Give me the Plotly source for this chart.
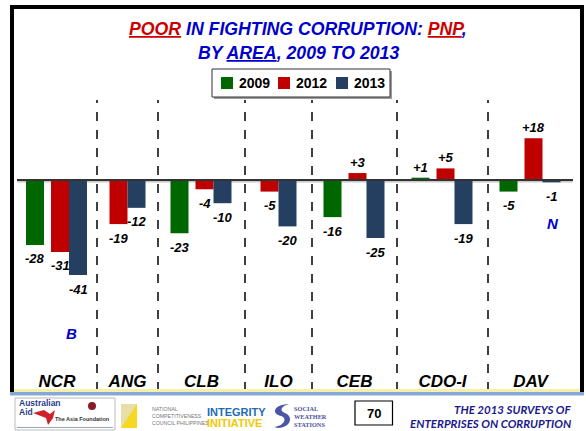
import plotly.graph_objects as go

# ---------------- data ----------------
areas = ["NCR", "ANG", "CLB", "ILO", "CEB", "CDO-I", "DAV"]
years = ["2009", "2012", "2013"]
v2009 = [-28, None, -23, None, -16, 1, -5]
v2012 = [-31, -19, -4, -5, 3, 5, 18]
v2013 = [-41, -12, -10, -20, -25, -19, -1]
series = [v2009, v2012, v2013]
colors = ["#006600", "#C00000", "#243F60"]

# ---------------- layout constants ----------------
W, H = 586, 431
PL, PR, PT, PB = 17, 573, 100, 369          # plot area in px
region_widths = [80, 61, 87, 67, 85, 91, 85]  # relative widths of area columns
PX_PER_UNIT = 2.32
ZERO_PX = 180
BAR_W = 18
off3 = [-22, 3, 21]
off2 = [None, -9, 9]

edges = [0]
for w in region_widths:
    edges.append(edges[-1] + w)
centers = [(edges[i] + edges[i + 1]) / 2 for i in range(len(areas))]

y_top = (ZERO_PX - PT) / PX_PER_UNIT
y_bot = -(PB - ZERO_PX) / PX_PER_UNIT


def xp(px):
    return (px - PL) / (PR - PL)


def yp(py):
    return (PB - py) / (PB - PT)


FONT = "Arial, Liberation Sans, sans-serif"
BLUE_T = "#0000CC"
RED_T = "#CC0000"

fig = go.Figure()
annotations = []
shapes = []


def text_at(px, py, text, font, xanchor="center"):
    annotations.append(dict(x=xp(px), y=yp(py), xref="paper", yref="paper", showarrow=False,
                            xanchor=xanchor, yanchor="middle", text=text, font=font))


for s, (name, vals, col) in enumerate(zip(years, series, colors)):
    xs, ys = [], []
    for i, v in enumerate(vals):
        if v is None:
            continue
        has3 = series[0][i] is not None
        off = off3[s] if has3 else off2[s]
        xs.append(centers[i] + off)
        ys.append(v)
        annotations.append(dict(
            x=centers[i] + off, y=v, xref="x", yref="y",
            text=(f"+{v}" if v > 0 else f"{v}"), showarrow=False,
            xanchor="center", yanchor="middle", yshift=(10.5 if v > 0 else -14),
            font=dict(family=FONT, size=13, color="black", weight="bold", style="italic")))
    fig.add_trace(go.Bar(x=xs, y=ys, width=BAR_W, name=name, marker_color=col,
                         marker_line_width=0, showlegend=False))

# zero line with soft shadow
shapes.append(dict(type="line", xref="x", yref="y", x0=0, x1=edges[-1], y0=-0.7, y1=-0.7,
                   line=dict(color="#C8C8C8", width=2), layer="below"))
shapes.append(dict(type="line", xref="x", yref="y", x0=0, x1=edges[-1], y0=0, y1=0,
                   line=dict(color="#333333", width=2)))

# dashed separators
for e in edges[1:-1]:
    shapes.append(dict(type="line", xref="x", yref="paper", x0=e, x1=e,
                       y0=yp(391), y1=yp(100), line=dict(color="black", width=1.5, dash="dash")))

# outer frame (left, top, right)
frame = "#000000"
shapes.append(dict(type="rect", xref="paper", yref="paper", x0=xp(10), x1=xp(14), y0=yp(395), y1=yp(5),
                   fillcolor=frame, line_width=0))
shapes.append(dict(type="rect", xref="paper", yref="paper", x0=xp(10), x1=xp(584), y0=yp(9), y1=yp(5),
                   fillcolor=frame, line_width=0))
shapes.append(dict(type="rect", xref="paper", yref="paper", x0=xp(580), x1=xp(584), y0=yp(395), y1=yp(5),
                   fillcolor=frame, line_width=0))

# footer separator
shapes.append(dict(type="rect", xref="paper", yref="paper", x0=xp(14), x1=xp(580), y0=yp(392), y1=yp(389),
                   fillcolor="#F4F0A8", line_width=0))
shapes.append(dict(type="rect", xref="paper", yref="paper", x0=xp(10), x1=xp(584), y0=yp(395.5), y1=yp(392),
                   fillcolor="#86A8D8", line_width=0))

# title
title_font = dict(family=FONT, size=17.7, color=BLUE_T, weight="bold", style="italic")
text_at(298, 29, (f"<span style='color:{RED_T}'><u>POOR</u></span> IN FIGHTING CORRUPTION: "
                  f"<span style='color:{RED_T}'><u>PNP</u></span>,"), title_font)
text_at(298, 53.5, "BY <u>AREA</u>, 2009 TO 2013", title_font)

# manual legend
shapes.append(dict(type="rect", xref="paper", yref="paper", x0=xp(214), x1=xp(392), y0=yp(99), y1=yp(71),
                   fillcolor="#9A9A9A", line_width=0))
shapes.append(dict(type="rect", xref="paper", yref="paper", x0=xp(212), x1=xp(390), y0=yp(97), y1=yp(69),
                   fillcolor="white", line=dict(color="#333333", width=1)))
leg_x = [221, 278, 336]
for name, col, lx in zip(years, colors, leg_x):
    shapes.append(dict(type="rect", xref="paper", yref="paper", x0=xp(lx), x1=xp(lx + 12),
                       y0=yp(89), y1=yp(77), fillcolor=col, line_width=0))
    text_at(lx + 16, 83, name, dict(family=FONT, size=14, color="black", weight="bold"), xanchor="left")

# B / N markers
for txt, px, py in [("B", 71, 333), ("N", 553, 223)]:
    text_at(px, py, txt, dict(family=FONT, size=15, color=BLUE_T, weight="bold", style="italic"))

# ---------------- footer ----------------
# Australian Aid / Asia Foundation
shapes.append(dict(type="rect", xref="paper", yref="paper", x0=xp(15), x1=xp(115), y0=yp(430), y1=yp(398),
                   fillcolor="white", line=dict(color="#BBBBBB", width=1)))
text_at(17, 403, "Australian", dict(family=FONT, size=8.5, color="#1F3E8C", weight="bold"), xanchor="left")
text_at(17, 411.5, "Aid", dict(family=FONT, size=8.5, color="#1F3E8C", weight="bold"), xanchor="left")
shapes.append(dict(type="path", xref="paper", yref="paper",
                   path=(f"M {xp(33)},{yp(413)} L {xp(44)},{yp(410)} L {xp(50)},{yp(414)} "
                         f"L {xp(55)},{yp(410)} L {xp(53)},{yp(418)} L {xp(48)},{yp(425)} "
                         f"L {xp(46)},{yp(418)} Z"),
                   fillcolor="#D0202A", line_width=0))
shapes.append(dict(type="circle", xref="paper", yref="paper", x0=xp(88), x1=xp(96), y0=yp(410), y1=yp(402),
                   fillcolor="#8B1C2C", line_width=0))
text_at(112, 419, "The Asia Foundation", dict(family=FONT, size=5.5, color="#333333", weight="bold"),
        xanchor="right")
shapes.append(dict(type="line", xref="paper", yref="paper", x0=xp(17), x1=xp(113), y0=yp(427.5),
                   y1=yp(427.5), line=dict(color="#9AA4C0", width=1)))

# NCC
shapes.append(dict(type="rect", xref="paper", yref="paper", x0=xp(121), x1=xp(137), y0=yp(428), y1=yp(404),
                   fillcolor="#E8DFA8", line_width=0))
shapes.append(dict(type="path", xref="paper", yref="paper",
                   path=f"M {xp(121)},{yp(428)} L {xp(137)},{yp(404)} L {xp(137)},{yp(428)} Z",
                   fillcolor="#F7D820", line_width=0))
text_at(150, 416, "NATIONAL<br>COMPETITIVENESS<br>COUNCIL PHILIPPINES",
        dict(family=FONT, size=5.2, color="#777777"), xanchor="left")
annotations[-1]["align"] = "left"

# Integrity Initiative
text_at(205, 411.5, "INTEGRITY", dict(family=FONT, size=11, color="#1E6BB8", weight="bold"), xanchor="left")
text_at(205, 423, "INITIATIVE", dict(family=FONT, size=11, color="#F2C800", weight="bold"), xanchor="left")

# SWS
shapes.append(dict(type="path", xref="paper", yref="paper",
                   path=(f"M {xp(289)},{yp(404)} C {xp(272)},{yp(405)} {xp(272)},{yp(414)} {xp(281)},{yp(416)} "
                         f"C {xp(288)},{yp(418)} {xp(284)},{yp(426)} {xp(274)},{yp(427)} "
                         f"L {xp(278)},{yp(428)} C {xp(292)},{yp(427)} {xp(293)},{yp(416)} {xp(285)},{yp(413)} "
                         f"C {xp(279)},{yp(411)} {xp(281)},{yp(406)} {xp(289)},{yp(404)} Z"),
                   fillcolor="#4A55A8", line_width=0))
text_at(292, 416.5, "SOCIAL<br>WEATHER<br>STATIONS",
        dict(family="Liberation Serif, DejaVu Serif, serif", size=6.3, color="#4B4F9F", weight="bold"),
        xanchor="left")
annotations[-1]["align"] = "left"

# page number box
shapes.append(dict(type="rect", xref="paper", yref="paper", x0=xp(355), x1=xp(392.5), y0=yp(425), y1=yp(401),
                   fillcolor="white", line=dict(color="black", width=1.2)))
text_at(374, 413, "70", dict(family=FONT, size=13, color="black", weight="bold"))

# right footer text
for t, py in [("THE 2013 SURVEYS OF", 409), ("ENTERPRISES ON CORRUPTION", 423)]:
    text_at(573, py, t, dict(family="Lato, Open Sans, sans-serif", size=11.5, color="#1A1A8C",
                             weight="bold", style="italic"), xanchor="right")

fig.update_layout(
    width=W, height=H,
    margin=dict(l=PL, r=W - PR, t=PT, b=H - PB, pad=0),
    paper_bgcolor="white", plot_bgcolor="white",
    barmode="overlay", showlegend=False,
    xaxis=dict(range=[0, edges[-1]], tickmode="array", tickvals=centers, ticktext=areas,
               showgrid=False, zeroline=False, showline=False, ticks="",
               tickfont=dict(family=FONT, size=17, color="black", weight="bold", style="italic"),
               fixedrange=True),
    yaxis=dict(range=[y_bot, y_top], visible=False, showgrid=False, zeroline=False, fixedrange=True),
    shapes=shapes, annotations=annotations,
)

fig.write_html("out.html", config={"displayModeBar": False},
               post_script="document.body.style.margin='0';document.body.style.overflow='hidden';")
